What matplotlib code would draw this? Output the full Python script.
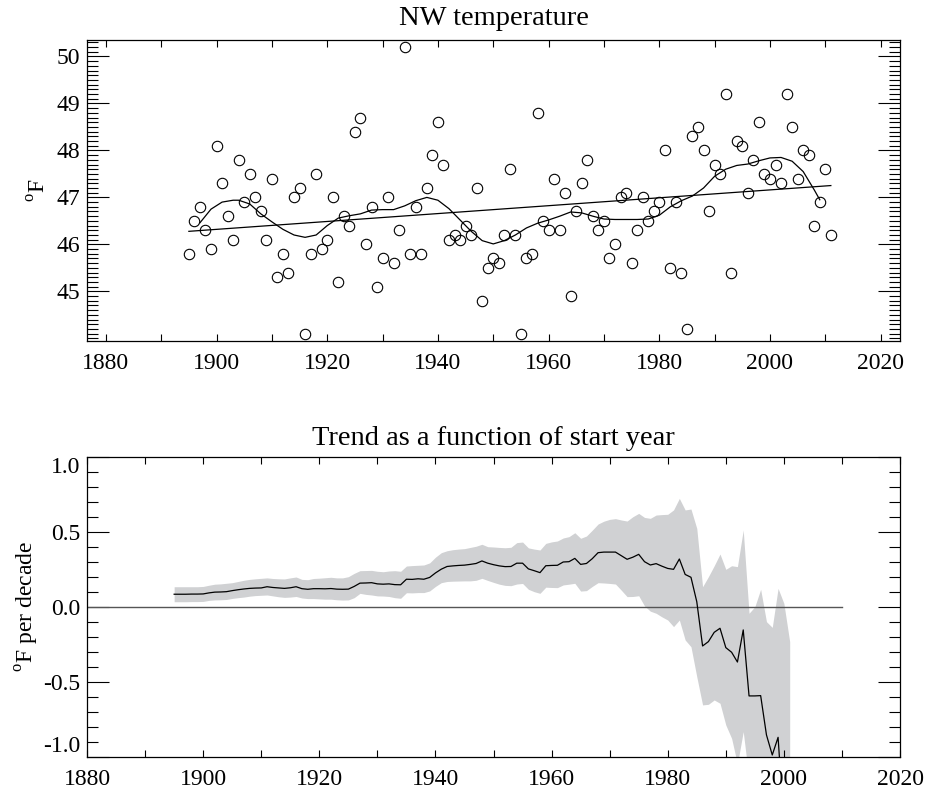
import numpy as np
import matplotlib
matplotlib.use('Agg')
import matplotlib.pyplot as plt
from matplotlib.ticker import MultipleLocator, FixedLocator, FuncFormatter

plt.rcParams['font.family'] = ['Liberation Serif', 'DejaVu Serif']
plt.rcParams['mathtext.fontset'] = 'custom'
plt.rcParams['mathtext.rm'] = 'Liberation Serif'

# annual NW temperature (deg F)
years = np.arange(1895, 2012)
temp = [45.8, 46.5, 46.8, 46.3, 45.9, 48.1, 47.3, 46.6, 46.1, 47.8,
        46.9, 47.5, 47.0, 46.7, 46.1, 47.4, 45.3, 45.8, 45.4, 47.0,
        47.2, 44.1, 45.8, 47.5, 45.9, 46.1, 47.0, 45.2, 46.6, 46.4,
        48.4, 48.7, 46.0, 46.8, 45.1, 45.7, 47.0, 45.6, 46.3, 50.2,
        45.8, 46.8, 45.8, 47.2, 47.9, 48.6, 47.7, 46.1, 46.2, 46.1,
        46.4, 46.2, 47.2, 44.8, 45.5, 45.7, 45.6, 46.2, 47.6, 46.2,
        44.1, 45.7, 45.8, 48.8, 46.5, 46.3, 47.4, 46.3, 47.1, 44.9,
        46.7, 47.3, 47.8, 46.6, 46.3, 46.5, 45.7, 46.0, 47.0, 47.1,
        45.6, 46.3, 47.0, 46.5, 46.7, 46.9, 48.0, 45.5, 46.9, 45.4,
        44.2, 48.3, 48.5, 48.0, 46.7, 47.7, 47.5, 49.2, 45.4, 48.2,
        48.1, 47.1, 47.8, 48.6, 47.5, 47.4, 47.7, 47.3, 49.2, 48.5,
        47.4, 48.0, 47.9, 46.4, 46.9, 47.6, 46.2]

# smoothed curve
smooth_years = [1897, 1899, 1901, 1903, 1904, 1906, 1908, 1910, 1912, 1914,
                1916, 1918, 1920, 1922, 1924, 1926, 1928, 1930, 1932, 1934,
                1936, 1938, 1940, 1942, 1944, 1946, 1948, 1950, 1952, 1954,
                1956, 1958, 1960, 1962, 1964, 1966, 1968, 1970, 1972, 1974,
                1976, 1978, 1980, 1982, 1984, 1986, 1988, 1990, 1992, 1994,
                1996, 1998, 2000, 2002, 2004, 2006, 2008, 2009]
smooth_temp = [46.46, 46.75, 46.90, 46.94, 46.94, 46.86, 46.65, 46.48, 46.32, 46.20,
               46.15, 46.20, 46.40, 46.56, 46.61, 46.65, 46.73, 46.74, 46.74, 46.82,
               46.93, 47.00, 46.94, 46.76, 46.52, 46.28, 46.08, 46.01, 46.08, 46.20,
               46.35, 46.45, 46.52, 46.60, 46.69, 46.67, 46.60, 46.54, 46.53, 46.53,
               46.53, 46.54, 46.62, 46.80, 46.93, 47.03, 47.20, 47.45, 47.60, 47.68,
               47.71, 47.78, 47.84, 47.85, 47.77, 47.55, 47.16, 46.95]

# trend (deg F per decade) as a function of start year, with band
start_years = np.arange(1895, 2002)
trend = [0.083, 0.083, 0.083, 0.084, 0.084, 0.085, 0.092, 0.097, 0.098, 0.100,
         0.107, 0.113, 0.118, 0.122, 0.124, 0.125, 0.133, 0.128, 0.125, 0.122,
         0.126, 0.133, 0.120, 0.116, 0.120, 0.120, 0.119, 0.121, 0.117, 0.116,
         0.117, 0.135, 0.157, 0.158, 0.160, 0.152, 0.150, 0.152, 0.147, 0.146,
         0.183, 0.182, 0.186, 0.183, 0.195, 0.225, 0.250, 0.268, 0.272, 0.275,
         0.277, 0.282, 0.288, 0.305, 0.290, 0.280, 0.272, 0.267, 0.268, 0.290,
         0.290, 0.252, 0.240, 0.227, 0.273, 0.275, 0.276, 0.298, 0.300, 0.322,
         0.282, 0.288, 0.320, 0.360, 0.364, 0.364, 0.364, 0.340, 0.316, 0.330,
         0.349, 0.300, 0.278, 0.287, 0.270, 0.255, 0.249, 0.318, 0.215, 0.196,
         0.033, -0.262, -0.233, -0.171, -0.144, -0.273, -0.304, -0.369, -0.155, -0.595,
         -0.595, -0.593, -0.855, -0.989, -0.871, -1.45, -1.6]
upper = [0.133, 0.133, 0.133, 0.133, 0.133, 0.135, 0.143, 0.150, 0.152, 0.156,
         0.160, 0.168, 0.176, 0.182, 0.186, 0.189, 0.192, 0.188, 0.186, 0.185,
         0.192, 0.198, 0.182, 0.180, 0.188, 0.190, 0.193, 0.196, 0.192, 0.192,
         0.200, 0.222, 0.240, 0.241, 0.242, 0.236, 0.233, 0.238, 0.240, 0.236,
         0.271, 0.274, 0.276, 0.278, 0.292, 0.330, 0.360, 0.373, 0.380, 0.384,
         0.387, 0.395, 0.403, 0.416, 0.400, 0.398, 0.395, 0.393, 0.396, 0.427,
         0.431, 0.392, 0.384, 0.378, 0.422, 0.432, 0.438, 0.458, 0.467, 0.493,
         0.456, 0.471, 0.510, 0.551, 0.570, 0.582, 0.587, 0.578, 0.571, 0.600,
         0.622, 0.595, 0.589, 0.611, 0.614, 0.616, 0.645, 0.722, 0.645, 0.651,
         0.522, 0.133, 0.200, 0.273, 0.351, 0.249, 0.273, 0.267, 0.511, -0.044,
         0.000, 0.116, -0.100, -0.138, 0.122, 0.022, -0.233]
lower = [0.033, 0.033, 0.033, 0.034, 0.034, 0.035, 0.042, 0.045, 0.046, 0.048,
         0.055, 0.060, 0.064, 0.070, 0.074, 0.076, 0.078, 0.072, 0.066, 0.062,
         0.064, 0.068, 0.058, 0.054, 0.054, 0.052, 0.050, 0.050, 0.046, 0.044,
         0.045, 0.060, 0.089, 0.082, 0.078, 0.072, 0.071, 0.068, 0.060, 0.056,
         0.093, 0.092, 0.094, 0.094, 0.105, 0.135, 0.160, 0.168, 0.170, 0.171,
         0.172, 0.172, 0.176, 0.189, 0.175, 0.162, 0.150, 0.142, 0.140, 0.151,
         0.155, 0.116, 0.100, 0.089, 0.130, 0.128, 0.127, 0.145, 0.150, 0.156,
         0.104, 0.107, 0.135, 0.160, 0.158, 0.155, 0.151, 0.110, 0.067, 0.068,
         0.073, 0.005, -0.030, -0.044, -0.068, -0.089, -0.133, -0.089, -0.222, -0.267,
         -0.467, -0.655, -0.651, -0.622, -0.644, -0.789, -0.878, -1.05, -0.833, -1.15,
         -1.19, -1.30, -1.61, -1.84, -1.86, -2.9, -3.0]

fig = plt.figure(figsize=(9.25, 7.9), dpi=100)
ax1 = fig.add_axes([0.0941, 0.5687, 0.8789, 0.3807])
ax2 = fig.add_axes([0.0941, 0.0422, 0.8789, 0.3797])

FS = 17
TFS = 20.5

# ---- top panel
ax1.plot(years, temp, 'o', mfc='none', mec='black', ms=7.5, mew=0.8)
ax1.plot(smooth_years, smooth_temp, color='black', lw=0.9)
coef = np.polyfit(years, temp, 1)
ax1.plot(years, np.polyval(coef, years), color='black', lw=0.9)
ax1.set_xlim(1876.6, 2023.5)
ax1.set_ylim(43.95, 50.35)
ax1.set_title('NW temperature', fontsize=TFS, pad=10.5)
ax1.set_ylabel(r'$^{\rm o}$F', fontsize=FS, labelpad=4)
ax1.xaxis.set_major_locator(MultipleLocator(10))
ax1.xaxis.set_major_formatter(FuncFormatter(lambda v, p: '%d' % v if int(round(v)) % 20 == 0 else ''))
ax1.yaxis.set_major_locator(FixedLocator([45, 46, 47, 48, 49, 50]))
ax1.yaxis.set_minor_locator(MultipleLocator(0.1))

# ---- bottom panel
ax2.fill_between(start_years, lower, upper, color='#d0d1d3', lw=0)
ax2.plot([1880, 2010], [0, 0], color='#555555', lw=1.0)
ax2.plot(start_years, trend, color='black', lw=0.9)
ax2.set_xlim(1880, 2020)
ax2.set_ylim(-1.0, 1.0)
ax2.set_title('Trend as a function of start year', fontsize=TFS, pad=8.5)
ax2.set_ylabel(r'$^{\rm o}$F per decade', fontsize=FS, labelpad=1.5)
ax2.xaxis.set_major_locator(MultipleLocator(10))
ax2.xaxis.set_major_formatter(FuncFormatter(lambda v, p: '%d' % v if int(round(v)) % 20 == 0 else ''))
ax2.yaxis.set_major_locator(MultipleLocator(0.5))
ax2.yaxis.set_minor_locator(MultipleLocator(0.1))
ax2.yaxis.set_major_formatter(FuncFormatter(lambda v, p: ('%.1f' % v).replace('\u2212', '-')))

for ax in (ax1, ax2):
    ax.tick_params(which='both', direction='in', top=True, right=True, labelsize=FS, width=0.8)
    ax.tick_params(axis='x', which='major', length=5, pad=9)
    ax.tick_params(axis='y', which='major', length=16, pad=5)
    ax.tick_params(axis='y', which='minor', length=8)
    for s in ax.spines.values():
        s.set_linewidth(0.9)

# end labels of the bottom panel sit inside the axis range
fig.canvas.draw()
for lab in ax2.get_yticklabels():
    txt = lab.get_text()
    if txt == '-1.0':
        lab.set_verticalalignment('bottom')
    elif txt == '1.0':
        lab.set_verticalalignment('top')

plt.savefig('out.png', dpi=100)
